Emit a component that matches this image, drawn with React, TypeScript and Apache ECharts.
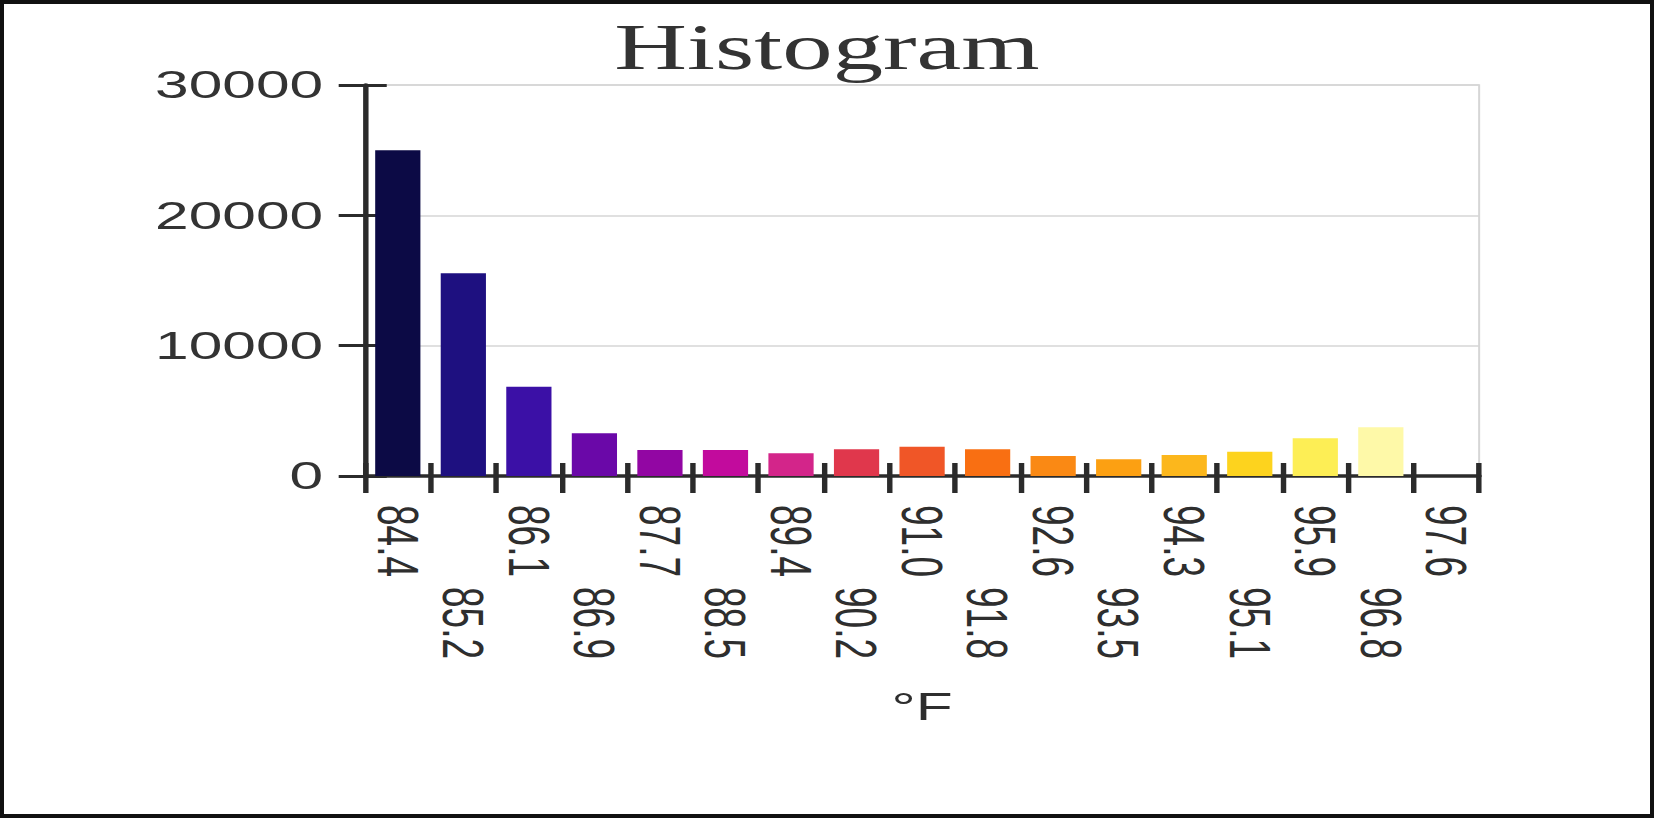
import { useEffect, useRef } from "react";
import * as echarts from "echarts";

// histogram bins (°F) and their counts
const categories = [
  "84.4", "85.2", "86.1", "86.9", "87.7", "88.5", "89.4", "90.2", "91.0",
  "91.8", "92.6", "93.5", "94.3", "95.1", "95.9", "96.8", "97.6",
];
const counts = [
  25000, 15550, 6850, 3280, 2000, 2000, 1740, 2050, 2250,
  2050, 1530, 1280, 1610, 1860, 2890, 3740, 0,
];
const barColors = [
  "#0c0a45", "#1e1080", "#3b10a6", "#6a08a8", "#9206a3", "#c20b9d",
  "#d3258a", "#e0374c", "#f05627", "#f96f12", "#fa8914", "#fca012",
  "#fcb71c", "#fdd31e", "#fdee55", "#fef9a8", "#fef9a8",
];
const yMin = 0;
const yMax = 30000;
const yStep = 10000;

// the reference picture is stretched sideways, so the chart is drawn narrow and scaled
const W = 1654;
const H = 818;
const S = 1.55;
const innerW = Math.round(W / S);

const App = () => {
  const chartRef = useRef<HTMLDivElement>(null);

  useEffect(() => {
    if (!chartRef.current) return;
    const chart = echarts.init(chartRef.current, null, { renderer: "svg" });
    const axisColor = "#2b2b2b";
    const labelFont = "'Liberation Sans', Arial, sans-serif";

    const option: any = {
      animation: false,
      backgroundColor: "#ffffff",
      title: {
        text: "Histogram",
        left: "center",
        top: 9,
        textStyle: {
          fontFamily: "'Liberation Serif', 'Times New Roman', serif",
          fontSize: 65,
          fontWeight: "normal",
          color: "#333333",
        },
      },
      grid: {
        left: 365 / S,
        right: innerW - 1479 / S,
        top: 85,
        bottom: H - 476,
        show: true,
        borderColor: "#d6d6d6",
        borderWidth: 1.3,
        outerBoundsMode: "none",
      },
      xAxis: [
        {
          type: "category",
          data: categories,
          position: "bottom",
          axisLine: { show: true, lineStyle: { color: axisColor, width: 3.5 } },
          axisTick: {
            show: true,
            interval: 0,
            length: 17,
            lineStyle: { color: axisColor, width: 3.5 },
          },
          axisLabel: {
            interval: (i: number) => i % 2 === 0,
            rotate: -90,
            margin: 29,
            fontFamily: labelFont,
            fontSize: 37,
            color: "#2e2e2e",
          },
          splitLine: { show: false },
        },
        {
          type: "category",
          data: categories,
          position: "bottom",
          name: "°F",
          nameLocation: "middle",
          nameGap: 211,
          nameTextStyle: { fontFamily: labelFont, fontSize: 39, color: "#2e2e2e" },
          axisLine: { show: false },
          axisTick: {
            show: true,
            inside: true,
            interval: 0,
            length: 13,
            lineStyle: { color: axisColor, width: 3.5 },
          },
          axisLabel: {
            interval: (i: number) => i % 2 === 1,
            rotate: -90,
            margin: 111,
            fontFamily: labelFont,
            fontSize: 37,
            color: "#2e2e2e",
          },
          splitLine: { show: false },
        },
      ],
      yAxis: [
        {
          type: "value",
          min: yMin,
          max: yMax,
          interval: yStep,
          position: "left",
          axisLine: { show: true, lineStyle: { color: axisColor, width: 3.5 } },
          axisTick: { show: true, length: 17, lineStyle: { color: axisColor, width: 3 } },
          axisLabel: {
            margin: 27,
            formatter: (v: number) => String(v),
            fontFamily: labelFont,
            fontSize: 39,
            color: "#333333",
          },
          splitLine: { show: true, lineStyle: { color: "#d6d6d6", width: 1.6 } },
        },
        {
          type: "value",
          min: yMin,
          max: yMax,
          interval: yStep,
          position: "left",
          axisLine: { show: false },
          axisTick: {
            show: true,
            inside: true,
            length: 14,
            lineStyle: { color: axisColor, width: 3 },
          },
          axisLabel: { show: false },
          splitLine: { show: false },
        },
      ],
      series: [
        {
          type: "bar",
          xAxisIndex: 0,
          yAxisIndex: 0,
          barCategoryGap: "31%",
          data: counts.map((v, i) => ({
            value: v,
            itemStyle: { color: barColors[i] },
          })),
        },
      ],
    };
    chart.setOption(option);

    return () => {
      chart.dispose();
    };
  }, []);

  return (
    <div
      style={{
        position: "absolute",
        left: 0,
        top: 0,
        width: W,
        height: H,
        overflow: "hidden",
        background: "#ffffff",
      }}
    >
      <div
        ref={chartRef}
        style={{
          width: innerW,
          height: H,
          transform: `scaleX(${W / innerW})`,
          transformOrigin: "0 0",
        }}
      ></div>
      <div
        style={{
          position: "absolute",
          left: 0,
          top: 0,
          width: W,
          height: H,
          boxSizing: "border-box",
          border: "4px solid #111111",
          pointerEvents: "none",
        }}
      ></div>
    </div>
  );
};

export default App;
